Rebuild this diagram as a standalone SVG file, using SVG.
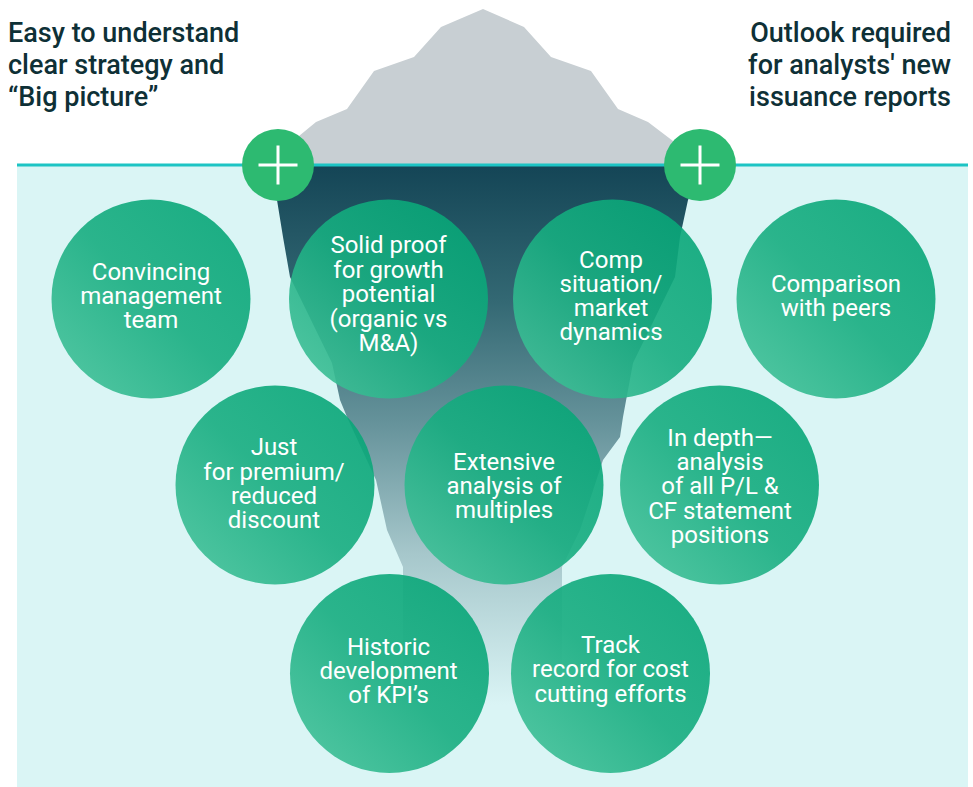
<svg xmlns="http://www.w3.org/2000/svg" width="973" height="787" viewBox="0 0 973 787">
  <defs>
    <linearGradient id="bubbleFill" x1="1" y1="0" x2="0" y2="1">
      <stop offset="0" stop-color="#03a475"/>
      <stop offset="0.5" stop-color="#17ad80"/>
      <stop offset="1" stop-color="#48c49c"/>
    </linearGradient>
    <linearGradient id="depthFill" gradientUnits="userSpaceOnUse" x1="0" y1="165" x2="0" y2="705">
      <stop offset="0" stop-color="#144556"/>
      <stop offset="0.25" stop-color="#336873"/>
      <stop offset="0.48" stop-color="#66939b"/>
      <stop offset="0.72" stop-color="#a6c7cb"/>
      <stop offset="1" stop-color="#daf4f5"/>
    </linearGradient>
    <style>
      .title { font-family: Roboto, "Liberation Sans", sans-serif; font-weight: 500; font-size: 27px; fill: #0e3036; }
      .bubble { fill: url(#bubbleFill); fill-opacity: 0.9; }
      .label { font-family: Roboto, "Liberation Sans", sans-serif; font-weight: 400; font-size: 24px; fill: #ffffff; text-anchor: middle; }
      .plus-disc { fill: #2dba71; }
      .plus-mark { stroke: #ffffff; stroke-width: 3; fill: none; }
    </style>
  </defs>

  <rect width="973" height="787" fill="#ffffff"/>

  <!-- sea -->
  <rect id="water" x="17" y="165" width="951" height="622" fill="#daf5f5"/>

  <!-- iceberg tip above the surface -->
  <polygon id="tip" fill="#c8cfd3" points="268,166 299,136 316,122 347,109 374,71 414,57 441,27 483,9 524,27 551,57 591,71 618,109 648,122 673,141 705,166"/>

  <!-- submerged part of the iceberg -->
  <polygon id="depth" fill="url(#depthFill)" points="272,166 704,166 688,200 680,237 675,277 633,363 623,417 620,437 603,460 580,530 562,567 562,710 403,710 403,567 387,530 376,480 347,417 340,400 332,363 290,277 283,237 277,200"/>

  <!-- waterline -->
  <line id="waterline" x1="17" y1="165" x2="968" y2="165" stroke="#1cc4c4" stroke-width="3"/>

  <!-- headings -->
  <g id="heading-left">
    <text class="title" x="8" y="42">Easy to understand</text>
    <text class="title" x="8" y="74">clear strategy and</text>
    <text class="title" x="8" y="106">“Big picture”</text>
  </g>
  <g id="heading-right" text-anchor="end">
    <text class="title" x="951" y="42">Outlook required</text>
    <text class="title" x="951" y="74">for analysts' new</text>
    <text class="title" x="951" y="106">issuance reports</text>
  </g>

  <!-- row 1 -->
  <g id="node-management">
    <circle class="bubble" cx="151" cy="299" r="99.5"/>
    <text class="label" x="151" y="280">Convincing</text>
    <text class="label" x="151" y="304">management</text>
    <text class="label" x="151" y="328">team</text>
  </g>
  <g id="node-growth">
    <circle class="bubble" cx="388.5" cy="299" r="99.5"/>
    <text class="label" x="388.5" y="253">Solid proof</text>
    <text class="label" x="388.5" y="278">for growth</text>
    <text class="label" x="388.5" y="302">potential</text>
    <text class="label" x="388.5" y="327">(organic vs</text>
    <text class="label" x="388.5" y="351">M&amp;A)</text>
  </g>
  <g id="node-market">
    <circle class="bubble" cx="612.5" cy="299" r="99.5"/>
    <text class="label" x="611" y="268">Comp</text>
    <text class="label" x="611" y="292">situation/</text>
    <text class="label" x="611" y="316">market</text>
    <text class="label" x="611" y="340">dynamics</text>
  </g>
  <g id="node-peers">
    <circle class="bubble" cx="836" cy="299" r="99.5"/>
    <text class="label" x="836" y="292">Comparison</text>
    <text class="label" x="836" y="316">with peers</text>
  </g>

  <!-- row 2 -->
  <g id="node-premium">
    <circle class="bubble" cx="275" cy="485" r="99.5"/>
    <text class="label" x="274" y="455">Just</text>
    <text class="label" x="274" y="480">for premium/</text>
    <text class="label" x="274" y="504">reduced</text>
    <text class="label" x="274" y="528">discount</text>
  </g>
  <g id="node-multiples">
    <circle class="bubble" cx="504" cy="485" r="99.5"/>
    <text class="label" x="504" y="470">Extensive</text>
    <text class="label" x="504" y="494">analysis of</text>
    <text class="label" x="504" y="518">multiples</text>
  </g>
  <g id="node-statements">
    <circle class="bubble" cx="719.5" cy="485" r="99.5"/>
    <text class="label" x="720" y="446">In depth—</text>
    <text class="label" x="720" y="470">analysis</text>
    <text class="label" x="720" y="494">of all P/L &amp;</text>
    <text class="label" x="720" y="519">CF statement</text>
    <text class="label" x="720" y="543">positions</text>
  </g>

  <!-- row 3 -->
  <g id="node-kpi">
    <circle class="bubble" cx="389.5" cy="673.5" r="99.5"/>
    <text class="label" x="388.5" y="655">Historic</text>
    <text class="label" x="388.5" y="679">development</text>
    <text class="label" x="388.5" y="703">of KPI’s</text>
  </g>
  <g id="node-costs">
    <circle class="bubble" cx="610.5" cy="673.5" r="99.5"/>
    <text class="label" x="610.5" y="653">Track</text>
    <text class="label" x="610.5" y="677">record for cost</text>
    <text class="label" x="610.5" y="702">cutting efforts</text>
  </g>

  <!-- plus markers on the waterline -->
  <g id="plus-left">
    <circle class="plus-disc" cx="278" cy="165" r="36"/>
    <path class="plus-mark" d="M258.5 165H297.5M278 145.5V184.5"/>
  </g>
  <g id="plus-right">
    <circle class="plus-disc" cx="700" cy="165" r="36"/>
    <path class="plus-mark" d="M680.5 165H719.5M700 145.5V184.5"/>
  </g>
</svg>
